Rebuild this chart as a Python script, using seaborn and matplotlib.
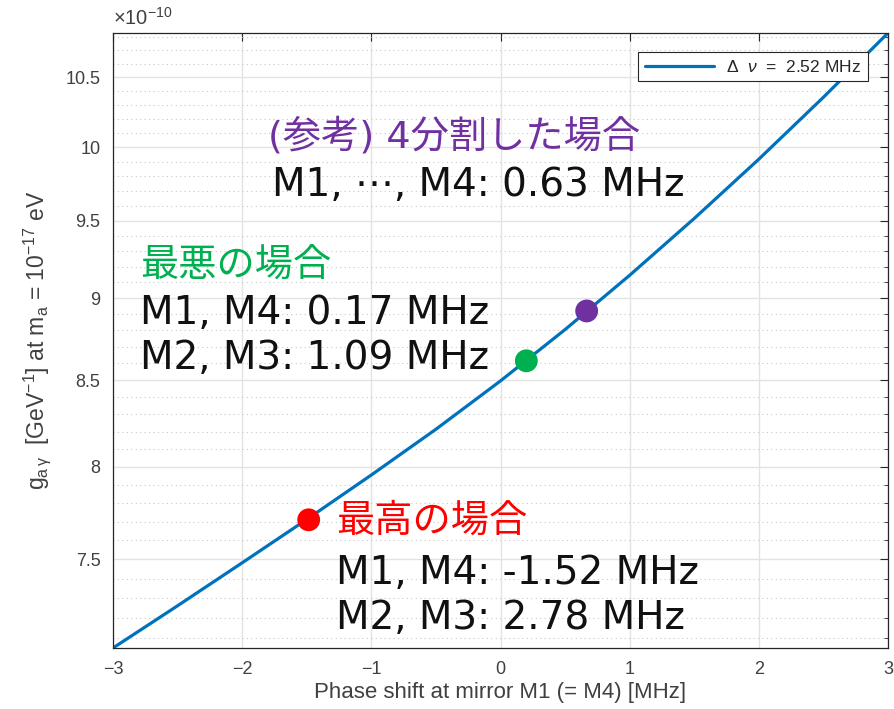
import numpy as np
import pandas as pd
import matplotlib
matplotlib.use("Agg")
import matplotlib.pyplot as plt
import seaborn as sns
from matplotlib.ticker import FixedLocator, FuncFormatter, NullFormatter

# ---- data (y values in units of 1e-10 GeV^-1) ----
phase_shift = [-3, -2.5, -2, -1.5, -1, -0.5, 0, 0.5, 1, 1.5, 2, 2.5, 3]
g_agamma = [7.05, 7.261, 7.482, 7.712, 7.955, 8.213, 8.495, 8.805, 9.145, 9.515, 9.917, 10.355, 10.83]
series_label = r"$\Delta\ \ \nu$  =  2.52 MHz"

dot_x = [-1.485, 0.20, 0.667]
dot_y = [7.71, 8.615, 8.92]
dot_names = ["best", "worst", "split4"]
dot_colors = ["#FF0000", "#00B050", "#7030A0"]

y_major = [7.5, 8, 8.5, 9, 9.5, 10, 10.5]
x_major = [-3, -2, -1, 0, 1, 2, 3]

sns.set_style("white")
plt.rcParams['font.family'] = ['Liberation Sans', 'DejaVu Sans']
plt.rcParams['mathtext.fontset'] = 'custom'
plt.rcParams['mathtext.rm'] = 'Liberation Sans'
plt.rcParams['mathtext.it'] = 'Liberation Sans:italic'

W, H = 894, 709
fig = plt.figure(figsize=(W / 100, H / 100), dpi=100)
ax = fig.add_axes([113 / W, 1 - 648 / H, (888 - 113) / W, (648 - 33) / H])

df = pd.DataFrame({"x": phase_shift, "y": g_agamma, "s": series_label})
sns.lineplot(data=df, x="x", y="y", hue="s", palette=["#0072BD"], linewidth=2.3, ax=ax)

dd = pd.DataFrame({"x": dot_x, "y": dot_y, "n": dot_names})
sns.scatterplot(data=dd, x="x", y="y", hue="n", palette=dot_colors, s=270,
                edgecolor="none", legend=False, ax=ax, zorder=5)

ax.set_yscale("log")
ax.set_xlim(-3, 3)
ax.set_ylim(7.05, 10.83)

minor = [round(v, 1) for v in np.arange(7.1, 10.85, 0.1) if round(v, 1) not in y_major]
ax.yaxis.set_major_locator(FixedLocator(y_major))
ax.yaxis.set_minor_locator(FixedLocator(minor))
ax.yaxis.set_major_formatter(FuncFormatter(lambda v, p: f"{v:g}"))
ax.yaxis.set_minor_formatter(NullFormatter())
ax.xaxis.set_major_locator(FixedLocator(x_major))
ax.xaxis.set_major_formatter(FuncFormatter(lambda v, p: f"{v:g}".replace("-", "\u2212")))

ax.grid(True, which="major", color="#e3e3e3", linewidth=1.0, linestyle="-")
ax.grid(True, which="minor", axis="y", color="#c8c8c8", linewidth=0.8, linestyle=(0, (1, 3)))
ax.set_axisbelow(True)

for sp in ax.spines.values():
    sp.set_color("#262626")
    sp.set_linewidth(0.9)
ax.tick_params(axis="both", which="both", direction="in", top=True, right=True,
               colors="#262626", labelcolor="#404040", labelsize=13)
ax.tick_params(axis="y", which="major", pad=9)
ax.tick_params(axis="x", which="major", pad=9)
ax.tick_params(which="major", length=6)
ax.tick_params(which="minor", length=3)

ax.set_xlabel("Phase shift at mirror M1 (= M4) [MHz]", fontsize=16, color="#404040", labelpad=3)
ax.set_ylabel(r"$\mathregular{g_{a\,\gamma}}$  [GeV$^{\mathregular{-1}}$] at m$_{\mathregular{a}}$ = 10$^{\mathregular{-17}}$ eV",
              fontsize=16.5, color="#404040", labelpad=9)
fig.text(113 / W, 1 - 18 / H, r"$\times$10$^{\mathregular{-10}}$", fontsize=14.5, color="#404040",
         ha="left", va="center")

leg = ax.legend(loc="upper right", bbox_to_anchor=(868 / W, 1 - 52 / H), bbox_transform=fig.transFigure,
                fontsize=12.5, frameon=True, fancybox=False, handlelength=4.0, borderpad=0.38,
                borderaxespad=0, handletextpad=0.7, labelcolor="#262626")
leg.get_frame().set_edgecolor("#262626")
leg.get_frame().set_linewidth(0.8)
leg.get_frame().set_alpha(1)

jp = ['DejaVu Sans', 'Noto Sans CJK JP']
texts = [
    ("(参考) 4分割した場合", 268, 137, "#7030A0", 27.5),
    ("M1, ⋯, M4: 0.63 MHz", 272, 185, "#111111", 28),
    ("最悪の場合", 140, 267, "#00B050", 27.5),
    ("M1, M4: 0.17 MHz", 140, 313, "#111111", 28),
    ("M2, M3: 1.09 MHz", 140, 358, "#111111", 28),
    ("最高の場合", 336, 522, "#FF0000", 27.5),
    ("M1, M4: -1.52 MHz", 336, 573, "#111111", 28),
    ("M2, M3: 2.78 MHz", 336, 618, "#111111", 28),
]
for s, px, py, c, fs in texts:
    fig.text(px / W, 1 - py / H, s, fontsize=fs, color=c, family=jp, ha="left", va="center")

fig.savefig("out.png", dpi=100)
